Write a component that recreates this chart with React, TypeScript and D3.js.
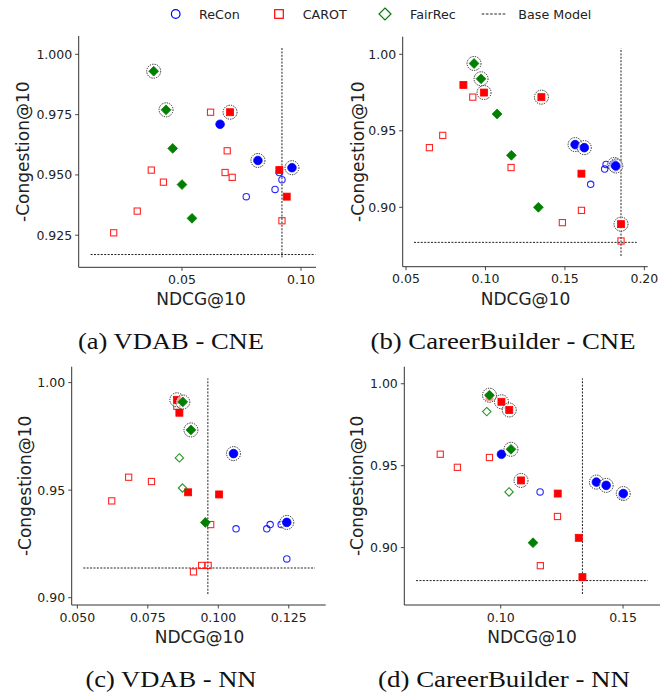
import React from "react";
import * as d3 from "d3";

// Each point: [NDCG@10, -Congestion@10, kind] where kind 0 = open, 1 = filled, 2 = filled + highlighted
type Pt = [number, number, number];

// (a) VDAB - CNE
const reconVdabCne: Pt[] = [
  [0.077, 0.941, 0], [0.0891, 0.944, 0], [0.092, 0.948, 0], [0.0909, 0.951, 0],
  [0.066, 0.971, 1], [0.0819, 0.956, 2], [0.0962, 0.953, 2],
];
const carotVdabCne: Pt[] = [
  [0.062, 0.976, 0], [0.069, 0.96, 0], [0.0371, 0.952, 0], [0.0681, 0.951, 0], [0.0711, 0.949, 0],
  [0.0422, 0.947, 0], [0.0312, 0.935, 0], [0.0213, 0.926, 0], [0.092, 0.931, 0],
  [0.0702, 0.976, 2], [0.0909, 0.952, 1], [0.094, 0.941, 1],
];
const fairrecVdabCne: Pt[] = [
  [0.0381, 0.993, 2], [0.0433, 0.977, 2], [0.0461, 0.961, 1], [0.05, 0.946, 1], [0.0542, 0.932, 1],
];
const baseVdabCne = [0.092, 0.917];

// (b) CareerBuilder - CNE
const reconCbCne: Pt[] = [
  [0.1759, 0.928, 0], [0.175, 0.925, 0], [0.1662, 0.915, 0],
  [0.1564, 0.941, 2], [0.1622, 0.939, 2], [0.1811, 0.928, 2], [0.182, 0.927, 2],
];
const carotCbCne: Pt[] = [
  [0.092, 0.972, 0], [0.0731, 0.947, 0], [0.0647, 0.939, 0], [0.1161, 0.926, 0],
  [0.1604, 0.898, 0], [0.1484, 0.89, 0], [0.1853, 0.878, 0],
  [0.0861, 0.98, 1], [0.0991, 0.975, 2], [0.1352, 0.972, 2], [0.1604, 0.922, 1], [0.1853, 0.889, 2],
];
const fairrecCbCne: Pt[] = [
  [0.0928, 0.994, 2], [0.0972, 0.984, 2], [0.1073, 0.961, 1], [0.1163, 0.934, 1], [0.1333, 0.9, 1],
];
const baseCbCne = [0.1853, 0.8771];

// (c) VDAB - NN
const reconVdabNn: Pt[] = [
  [0.1063, 0.932, 0], [0.1172, 0.932, 0], [0.1184, 0.934, 0], [0.1223, 0.934, 0], [0.1243, 0.918, 0],
  [0.1054, 0.967, 2], [0.1243, 0.935, 2],
];
const carotVdabNn: Pt[] = [
  [0.0682, 0.956, 0], [0.0763, 0.954, 0], [0.0622, 0.945, 0], [0.0973, 0.934, 0],
  [0.0941, 0.915, 0], [0.0964, 0.915, 0], [0.0912, 0.912, 0],
  [0.0853, 0.992, 2], [0.0862, 0.986, 1], [0.0893, 0.949, 1], [0.1003, 0.948, 1], [0.0853, 0.989, 0],
];
const fairrecVdabNn: Pt[] = [
  [0.0862, 0.965, 0], [0.0873, 0.951, 0],
  [0.0874, 0.991, 2], [0.0903, 0.978, 2], [0.0954, 0.935, 1],
];
const baseVdabNn = [0.0963, 0.9138];

// (d) CareerBuilder - NN
const reconCbNn: Pt[] = [
  [0.1161, 0.934, 0], [0.1496, 0.9315, 0],
  [0.1003, 0.957, 1], [0.1391, 0.94, 2], [0.1431, 0.938, 2], [0.1501, 0.933, 2],
];
const carotCbNn: Pt[] = [
  [0.0753, 0.957, 0], [0.0823, 0.949, 0], [0.0954, 0.955, 0], [0.1232, 0.919, 0], [0.1162, 0.889, 0],
  [0.0954, 0.992, 1], [0.1003, 0.989, 2], [0.1035, 0.984, 2], [0.1083, 0.941, 2],
  [0.1233, 0.933, 1], [0.1319, 0.906, 1], [0.1334, 0.882, 1],
];
const fairrecCbNn: Pt[] = [
  [0.0943, 0.983, 0], [0.1034, 0.934, 0],
  [0.0954, 0.993, 2], [0.1042, 0.96, 2], [0.1132, 0.903, 1],
];
const baseCbNn = [0.1334, 0.8799];

const captions = ["(a) VDAB - CNE", "(b) CareerBuilder - CNE", "(c) VDAB - NN", "(d) CareerBuilder - NN"];
const legendLabels = ["ReCon", "CAROT", "FairRec", "Base Model"];

const BLUE = "#0000ff";
const RED = "#ff0000";
const GREEN = "#008000";
const SANS = "DejaVu Sans, sans-serif";
const SERIF = "Liberation Serif, serif";

interface Panel {
  caption: string;
  recon: Pt[];
  carot: Pt[];
  fairrec: Pt[];
  base: number[];
  baseX: [number, number];
  baseY: [number, number];
  frame: { l: number; r: number; t: number; b: number };
  xDomain: [number, number];
  yDomain: [number, number];
  xTicks: number[];
  yTicks: number[];
  xFmt: string;
  yFmt: string;
  yLabelX: number;
  xLabelX: number;
  captionX: number;
  captionY: number;
  captionW: number;
}

const panels: Panel[] = [
  {
    caption: captions[0], recon: reconVdabCne, carot: carotVdabCne, fairrec: fairrecVdabCne, base: baseVdabCne,
    baseX: [0.0116, 0.106], baseY: [0.9158, 1.0029],
    frame: { l: 78.7, r: 316, t: 36, b: 267.3 },
    xDomain: [0.0066, 0.1063], yDomain: [0.9117, 1.0076],
    xTicks: [0.05, 0.1], yTicks: [0.925, 0.95, 0.975, 1.0], xFmt: ".2f", yFmt: ".3f",
    yLabelX: 23.3, xLabelX: 201, captionX: 171, captionY: 349, captionW: 186,
  },
  {
    caption: captions[1], recon: reconCbCne, carot: carotCbCne, fairrec: fairrecCbCne, base: baseCbCne,
    baseX: [0.055, 0.1952], baseY: [0.8682, 1.0039],
    frame: { l: 402.7, r: 647.7, t: 36.7, b: 266.7 },
    xDomain: [0.0479, 0.2021], yDomain: [0.8612, 1.0115],
    xTicks: [0.05, 0.1, 0.15, 0.2], yTicks: [0.9, 0.95, 1.0], xFmt: ".2f", yFmt: ".2f",
    yLabelX: 358.3, xLabelX: 525.5, captionX: 503, captionY: 349, captionW: 265,
  },
  {
    caption: captions[2], recon: reconVdabNn, carot: carotVdabNn, fairrec: fairrecVdabNn, base: baseVdabNn,
    baseX: [0.0521, 0.1343], baseY: [0.9017, 1.002],
    frame: { l: 71.7, r: 325.7, t: 366.7, b: 605 },
    xDomain: [0.048, 0.1381], yDomain: [0.8966, 1.0074],
    xTicks: [0.05, 0.075, 0.1, 0.125], yTicks: [0.9, 0.95, 1.0], xFmt: ".3f", yFmt: ".2f",
    yLabelX: 25, xLabelX: 199.5, captionX: 171, captionY: 687, captionW: 171,
  },
  {
    caption: captions[3], recon: reconCbNn, carot: carotCbNn, fairrec: fairrecCbNn, base: baseCbNn,
    baseX: [0.0654, 0.1601], baseY: [0.8717, 1.0033],
    frame: { l: 404.3, r: 660, t: 366.7, b: 605 },
    xDomain: [0.0606, 0.1651], yDomain: [0.865, 1.0104],
    xTicks: [0.1, 0.15], yTicks: [0.9, 0.95, 1.0], xFmt: ".2f", yFmt: ".2f",
    yLabelX: 356.7, xLabelX: 532, captionX: 504, captionY: 687, captionW: 252,
  },
];

type Shape = "circle" | "square" | "diamond";

function Marker({ shape, x, y, filled, color }: { shape: Shape; x: number; y: number; filled: boolean; color: string }) {
  const fill = filled ? color : "none";
  const stroke = color;
  const sw = filled ? 0.8 : 1.1;
  const op = filled ? 1 : 0.85;
  if (shape === "circle") {
    return <circle cx={x} cy={y} r={filled ? 4.3 : 3.2} fill={fill} stroke={stroke} strokeWidth={sw} strokeOpacity={op} />;
  }
  if (shape === "square") {
    const s = filled ? 7 : 6.2;
    return <rect x={x - s / 2} y={y - s / 2} width={s} height={s} fill={fill} stroke={stroke} strokeWidth={sw} strokeOpacity={op} />;
  }
  const h = filled ? 4.9 : 4.2;
  return (
    <path d={`M${x},${y - h}L${x + h},${y}L${x},${y + h}L${x - h},${y}Z`} fill={fill} stroke={stroke} strokeWidth={sw} strokeOpacity={op} />
  );
}

function Series({ pts, shape, color, xs, ys }: { pts: Pt[]; shape: Shape; color: string; xs: d3.ScaleLinear<number, number>; ys: d3.ScaleLinear<number, number> }) {
  const open = pts.filter((p) => p[2] === 0);
  const filled = pts.filter((p) => p[2] > 0);
  return (
    <g>
      {open.map((p, i) => (
        <Marker key={`o${i}`} shape={shape} x={xs(p[0])} y={ys(p[1])} filled={false} color={color} />
      ))}
      {filled.map((p, i) => (
        <g key={`f${i}`}>
          {p[2] === 2 && (
            <circle cx={xs(p[0])} cy={ys(p[1])} r={7} fill="white" fillOpacity={0.6} stroke="#111" strokeWidth={0.9} strokeDasharray="1.3,1.1" />
          )}
          <Marker shape={shape} x={xs(p[0])} y={ys(p[1])} filled={true} color={color} />
        </g>
      ))}
    </g>
  );
}

function PanelView({ p }: { p: Panel }) {
  const { l, r, t, b } = p.frame;
  const xs = d3.scaleLinear().domain(p.xDomain).range([l, r]);
  const ys = d3.scaleLinear().domain(p.yDomain).range([b, t]);
  const fx = d3.format(p.xFmt);
  const fy = d3.format(p.yFmt);
  const axisColor = "#333";
  const cy = (t + b) / 2;
  return (
    <g>
      {/* base model reference lines */}
      <line x1={xs(p.baseX[0])} x2={xs(p.baseX[1])} y1={ys(p.base[1])} y2={ys(p.base[1])} stroke="#222" strokeWidth={1} strokeDasharray="2,1.4" />
      <line x1={xs(p.base[0])} x2={xs(p.base[0])} y1={ys(p.baseY[0])} y2={ys(p.baseY[1])} stroke="#222" strokeWidth={1} strokeDasharray="2,1.4" />

      <Series pts={p.recon} shape="circle" color={BLUE} xs={xs} ys={ys} />
      <Series pts={p.carot} shape="square" color={RED} xs={xs} ys={ys} />
      <Series pts={p.fairrec} shape="diamond" color={GREEN} xs={xs} ys={ys} />

      {/* spines */}
      <line x1={l} x2={l} y1={t} y2={b} stroke={axisColor} strokeWidth={1} />
      <line x1={l} x2={r} y1={b} y2={b} stroke={axisColor} strokeWidth={1} />

      {p.xTicks.map((v) => (
        <g key={`x${v}`}>
          <line x1={xs(v)} x2={xs(v)} y1={b} y2={b + 3.5} stroke={axisColor} strokeWidth={0.9} />
          <text x={xs(v)} y={b + 16.5} textAnchor="middle" fontSize={12.5} fontFamily={SANS} fill="#222">{fx(v)}</text>
        </g>
      ))}
      {p.yTicks.map((v) => (
        <g key={`y${v}`}>
          <line x1={l - 3.5} x2={l} y1={ys(v)} y2={ys(v)} stroke={axisColor} strokeWidth={0.9} />
          <text x={l - 6.5} y={ys(v)} dy="0.36em" textAnchor="end" fontSize={12.5} fontFamily={SANS} fill="#222">{fy(v)}</text>
        </g>
      ))}

      <text x={p.xLabelX} y={b + 38} textAnchor="middle" fontSize={17} fontFamily={SANS} fill="#222">NDCG@10</text>
      <text transform={`translate(${p.yLabelX},${cy}) rotate(-90)`} dy="0.36em" textAnchor="middle" fontSize={17} fontFamily={SANS} fill="#222">-Congestion@10</text>

      <text
        x={p.captionX - p.captionW / 2}
        y={p.captionY}
        fontSize={23}
        fontFamily={SERIF}
        fill="#111"
        textLength={p.captionW}
        lengthAdjust="spacingAndGlyphs"
      >
        {p.caption}
      </text>
    </g>
  );
}

function Legend() {
  const y = 14;
  return (
    <g fontFamily={SANS} fontSize={12.7} fill="#222">
      <circle cx={175.7} cy={y} r={4.3} fill="none" stroke={BLUE} strokeWidth={1.2} />
      <text x={199} y={y} dy="0.36em">{legendLabels[0]}</text>
      <rect x={279 - 4.3} y={y - 4.3} width={8.6} height={8.6} fill="none" stroke={RED} strokeWidth={1.2} />
      <text x={302.7} y={y} dy="0.36em">{legendLabels[1]}</text>
      <path d={`M385,${y - 6}L391,${y}L385,${y + 6}L379,${y}Z`} fill="none" stroke={GREEN} strokeWidth={1.2} />
      <text x={410} y={y} dy="0.36em">{legendLabels[2]}</text>
      <line x1={481.7} x2={506.7} y1={y} y2={y} stroke="#222" strokeWidth={1} strokeDasharray="2.6,1.6" />
      <text x={518.3} y={y} dy="0.36em">{legendLabels[3]}</text>
    </g>
  );
}

export default function App() {
  return (
    <svg width={662} height={700} style={{ position: "absolute", left: 0, top: 0, background: "white" }}>
      <rect width={662} height={700} fill="white" />
      <Legend />
      {panels.map((p) => (
        <PanelView key={p.caption} p={p} />
      ))}
    </svg>
  );
}
